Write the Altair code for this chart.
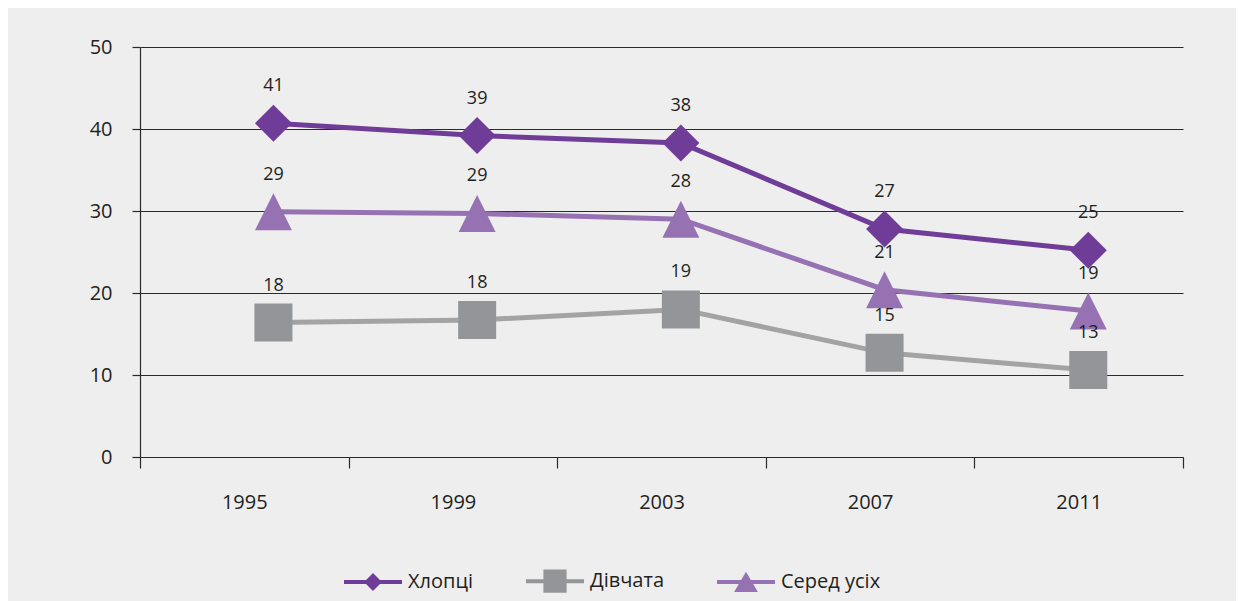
import altair as alt
import pandas as pd

# ---- data ----
years = ["1995", "1999", "2003", "2007", "2011"]
year_num = [1995, 1999, 2003, 2007, 2011]
series_names = ["Хлопці", "Дівчата", "Серед усіх"]
boys = [40.7, 39.2, 38.3, 27.8, 25.2]
girls = [16.4, 16.7, 18.0, 12.7, 10.6]
overall = [29.9, 29.7, 29.0, 20.4, 17.8]
boys_labels = ["41", "39", "38", "27", "25"]
girls_labels = ["18", "18", "19", "15", "13"]
overall_labels = ["29", "29", "28", "21", "19"]

# ---- styles ----
FONT = "Open Sans"
TEXT = "#231f20"
AX = "#2a2a2a"
BG = "#eeeeee"
marker_colors = ["#6f3d97", "#939598", "#9672b3"]
line_colors = ["#6f3d97", "#a3a3a3", "#9672b3"]
marker_shapes = ["diamond", "square", "M0,-1L1,1L-1,1Z"]
marker_sizes = [1369, 1444, 1369]
legend_shapes = [
    "M-1,-0.07L1,-0.07L1,0.07L-1,0.07Z M-0.31,0L0,-0.31L0.31,0L0,0.31Z",
    "M-1,-0.07L1,-0.07L1,0.07L-1,0.07Z M-0.4,-0.4L0.4,-0.4L0.4,0.4L-0.4,0.4Z",
    "M-1,-0.07L1,-0.07L1,0.07L-1,0.07Z M0,-0.35L0.41,0.35L-0.41,0.35Z",
]

rows = []
for name, vals, labs in zip(series_names, [boys, girls, overall],
                            [boys_labels, girls_labels, overall_labels]):
    for y, yn, v, l in zip(years, year_num, vals, labs):
        rows.append({"series": name, "year": y, "yr": yn, "value": v, "label": l})
df = pd.DataFrame(rows)

y_enc = alt.Y(
    "value:Q",
    scale=alt.Scale(domain=[0, 50], nice=False, zero=True),
    axis=alt.Axis(
        title=None, values=[0, 10, 20, 30, 40, 50], tickSize=8, labelPadding=20,
        labelFontSize=20, labelFont=FONT, labelColor=TEXT, grid=True,
        gridColor=AX, gridWidth=1.2, domainColor=AX, domainWidth=1.2,
        tickColor=AX, tickWidth=1.2,
    ),
)

x_enc = alt.X(
    "yr:Q",
    scale=alt.Scale(domain=[1992.38, 2012.86], nice=False, zero=False),
    axis=None,
)

axis_layer = alt.Chart(df).mark_bar(opacity=0).encode(
    x=alt.X(
        "year:N", sort=years,
        scale=alt.Scale(type="band", paddingInner=0, paddingOuter=0),
        axis=alt.Axis(
            title=None, labelAngle=0, tickBand="extent", tickSize=11,
            labelPadding=34, labelBaseline="middle", labelFontSize=20,
            labelFont=FONT, labelColor=TEXT, domainColor=AX, domainWidth=1.2,
            tickColor=AX, tickWidth=1.2, grid=False,
        ),
    ),
    y=y_enc,
)

layers = [axis_layer]
for i, name in enumerate(series_names):
    layers.append(
        alt.Chart(df).transform_filter(alt.datum.series == name)
        .mark_line(color=line_colors[i], strokeWidth=5)
        .encode(x=x_enc, y=y_enc, order="yr:Q")
    )
for i, name in enumerate(series_names):
    layers.append(
        alt.Chart(df).transform_filter(alt.datum.series == name)
        .mark_point(filled=True, shape=marker_shapes[i], size=marker_sizes[i],
                    color=marker_colors[i], opacity=1, strokeWidth=0)
        .encode(x=x_enc, y=y_enc)
    )
layers.append(
    alt.Chart(df).mark_text(dy=-37, fontSize=18, font=FONT, color=TEXT)
    .encode(x=x_enc, y=y_enc, text="label:N")
)

leg = alt.Legend(
    orient="none", legendX=204, legendY=505, direction="horizontal", title=None,
    symbolSize=3364, labelFontSize=20, labelFont=FONT, labelColor=TEXT,
    labelOffset=6, columnPadding=53, padding=0, symbolStrokeWidth=0,
    symbolOpacity=1,
)
# legend-only layer: rows filtered out, entries come from the explicit scale domain
layers.append(
    alt.Chart(df).transform_filter("datum.value < 0")
    .mark_point(filled=True, size=3364).encode(
        x=x_enc, y=y_enc,
        color=alt.Color("series:N", scale=alt.Scale(domain=series_names, range=marker_colors), legend=leg),
        shape=alt.Shape("series:N", scale=alt.Scale(domain=series_names, range=legend_shapes), legend=leg),
    )
)

chart = (
    alt.layer(*layers)
    .resolve_scale(x="independent")
    .properties(
        width=1043, height=410, background=BG,
        padding={"left": 132, "top": 39, "right": 53, "bottom": 144},
        autosize=alt.AutoSizeParams(type="none"),
    )
    .configure_view(stroke=None)
)

chart.save("out.html", embed_options={"renderer": "svg", "actions": False})
